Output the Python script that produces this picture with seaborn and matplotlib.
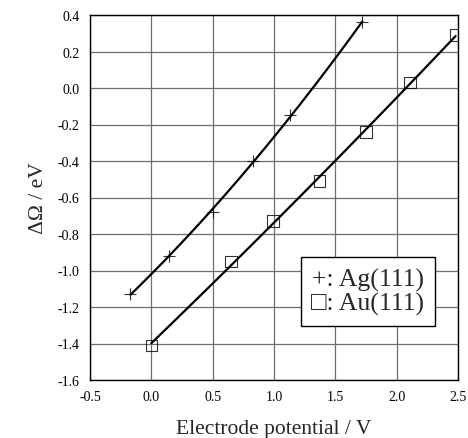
import numpy as np
import pandas as pd
import matplotlib
matplotlib.use("Agg")
import matplotlib.pyplot as plt
import seaborn as sns

ag_x = [-0.17, 0.14, 0.50, 0.83, 1.13, 1.72]
ag_y = [-1.13, -0.92, -0.68, -0.40, -0.15, 0.36]
au_x = [0.00, 0.65, 0.99, 1.37, 1.75, 2.11, 2.48]
au_y = [-1.41, -0.95, -0.73, -0.51, -0.24, 0.03, 0.29]
x_ticks = [-0.5, 0.0, 0.5, 1.0, 1.5, 2.0, 2.5]
y_ticks = [-1.6, -1.4, -1.2, -1.0, -0.8, -0.6, -0.4, -0.2, 0.0, 0.2, 0.4]

sns.set_style("white")
plt.rcParams['font.family'] = ['Liberation Serif', 'DejaVu Serif']

fig = plt.figure(figsize=(4.68, 4.39), dpi=100)
ax = fig.add_axes([90/468, 1 - 381/439, 368/468, 365/439])

ag = pd.DataFrame({"x": ag_x, "y": ag_y})
au = pd.DataFrame({"x": au_x, "y": au_y})

sns.regplot(data=ag, x="x", y="y", order=2, ci=None, ax=ax, marker="+",
            scatter_kws=dict(color="black", s=80, linewidths=0.8, zorder=3),
            line_kws=dict(color="black", lw=1.6, zorder=2))
sns.regplot(data=au, x="x", y="y", order=2, ci=None, ax=ax, marker="s",
            scatter_kws=dict(facecolors="none", edgecolors="black", s=70, linewidths=0.8, zorder=3),
            line_kws=dict(color="black", lw=1.6, zorder=2))

ax.set_xlim(-0.5, 2.5)
ax.set_ylim(-1.6, 0.4)
ax.set_xticks(x_ticks)
ax.set_yticks(y_ticks)
ax.set_xticklabels([f"{v:.1f}" for v in x_ticks], fontsize=10)
ax.set_yticklabels([f"{v:.1f}" for v in y_ticks], fontsize=10)
ax.grid(True, color="#6e6e6e", lw=0.9)
ax.set_axisbelow(True)
for s in ax.spines.values():
    s.set_color("black")
    s.set_linewidth(1.0)
ax.tick_params(direction="out", length=4.5, width=0.8, colors="black", pad=3)

ax.set_xlabel("Electrode potential / V", fontsize=15.5, labelpad=11)
ax.set_ylabel("ΔΩ / eV", fontsize=15.5, labelpad=7)

ax.text(0.755, 0.242, "+: Ag(111)\n□: Au(111)", transform=ax.transAxes,
        ha="center", va="center", fontsize=18.5, linespacing=1.05,
        family=['Liberation Serif', 'DejaVu Sans'],
        bbox=dict(boxstyle="square,pad=0.42", facecolor="white", edgecolor="black", lw=1.0),
        zorder=5)

fig.savefig("out.png", dpi=100)
